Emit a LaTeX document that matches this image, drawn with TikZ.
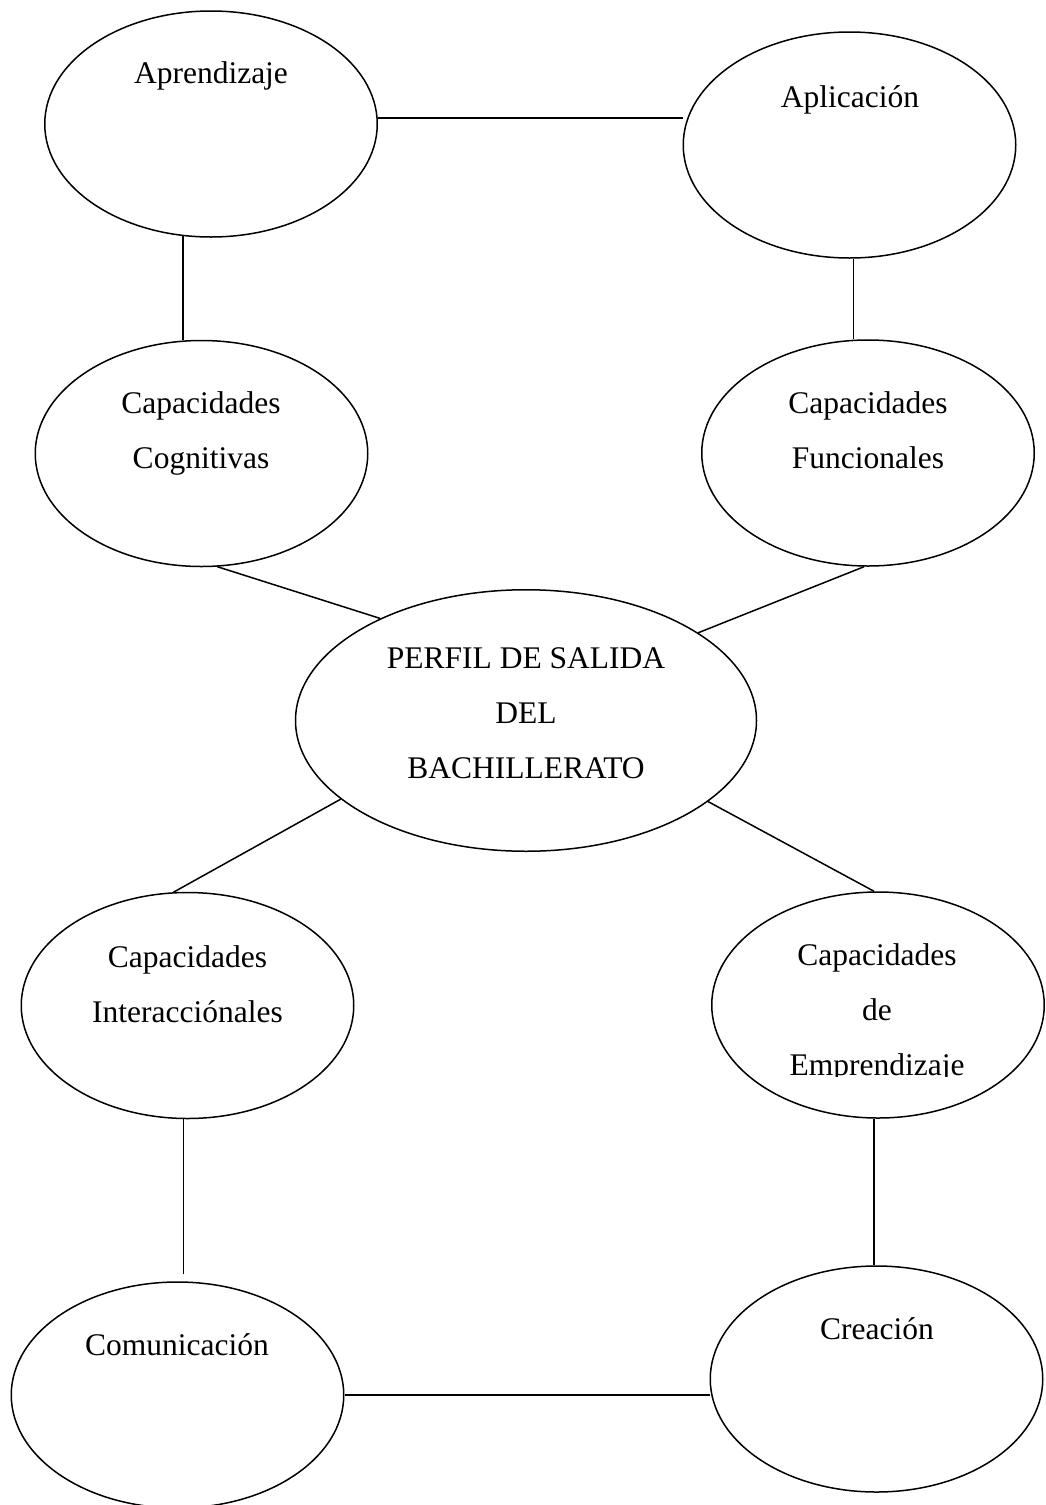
\documentclass[tikz,border=0pt]{standalone}
\usepackage{fontspec}
\setmainfont{Liberation Serif}
\usetikzlibrary{shapes.geometric}
\begin{document}
\begin{tikzpicture}[x=1pt,y=-1pt,
  bubble/.style={ellipse,draw,line width=1.5pt,inner sep=0pt,minimum width=332.5pt,minimum height=226pt},
  bigbubble/.style={bubble,minimum width=461pt,minimum height=261.5pt},
  txt/.style={font=\fontsize{31.5}{55}\selectfont,align=center,anchor=base,inner sep=0pt},
  link/.style={line width=1.5pt}]
\useasboundingbox (0,0) rectangle (1045,1505);
% ellipses
\node[bubble] (apr) at (211,124) {};
\node[bubble] (apl) at (849.5,145) {};
\node[bubble] (cog) at (201.5,453.5) {};
\node[bubble] (fun) at (868,453) {};
\node[bigbubble] (per) at (526,720.5) {};
\node[bubble] (int) at (187.5,1005.5) {};
\node[bubble] (emp) at (878,1005) {};
\node[bubble] (com) at (177.5,1395) {};
\node[bubble] (cre) at (876.5,1379) {};
% texts (base = baseline of the last line)
\node[txt] (taprx) at (211,83) {Aprendizaje};
\node[txt] (taplx) at (850,107) {Aplicación};
\node[txt] (tcogx) at (201,468) {Capacidades\\Cognitivas};
\node[txt] (tfunx) at (868,468) {Capacidades\\Funcionales};
\node[txt] (tperx) at (526,778) {PERFIL DE SALIDA\\DEL\\BACHILLERATO};
\node[txt] (tintx) at (187.5,1022) {Capacidades\\Interacciónales};
\begin{scope}
\clip (690,900) rectangle (1045,1076);
\node[txt] (tempx) at (877,1075) {Capacidades\\de\\Emprendizaje};
\end{scope}
\node[txt] (tcomx) at (177,1355) {Comunicación};
\node[txt] (tcrex) at (877,1339) {Creación};
% connectors
\draw[link] (apr.2) -- (apr.2 -| apl.west);
\draw[link] (apr.256.4) -- (apr.256.4 |- cog.north);
\draw[link] (apl.272.3) -- (apl.272.3 |- fun.north);
\draw[link] (cog.278.3) -- (per.145.2);
\draw[link] (fun.268) -- (per.27.8);
\draw[link] (per.203.9) -- (int.97.3);
\draw[link] (per.336.5) -- (emp.92.5);
\draw[link,shorten >=7pt] (int.268.2) -- (int.268.2 |- com.north);
\draw[link] (emp.268.5) -- (emp.268.5 |- cre.north);
\draw[link] (com.east) -- (com.east -| cre.west);
\end{tikzpicture}
\end{document}
